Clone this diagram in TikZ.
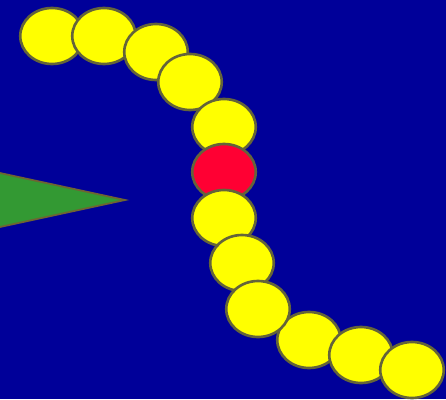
\documentclass[tikz,border=0pt]{standalone}
\usepackage{xcolor}
\usepackage{tikz}
\usetikzlibrary{shapes.geometric}

\definecolor{bgblue}{RGB}{0,0,153}
\definecolor{segyellow}{RGB}{255,255,0}
\definecolor{headred}{RGB}{255,0,51}
\definecolor{tonguegreen}{RGB}{51,153,51}
\definecolor{rimgray}{RGB}{100,100,58}
\definecolor{rimbrown}{RGB}{110,100,50}

\begin{document}
\begin{tikzpicture}[
    x=0.02cm, y=-0.02cm,
    line width=1.5pt,
    seg/.style={
        ellipse,
        draw=rimgray,
        fill=segyellow,
        inner sep=0pt,
        minimum width=1.27cm,
        minimum height=1.12cm
    },
    headseg/.style={
        seg,
        fill=headred
    }
]

% ==================== Canvas ====================
\useasboundingbox (0,0) rectangle (446,399);
\clip (0,0) rectangle (446,399);
\fill[bgblue] (0,0) rectangle (446,399);

% ==================== Tongue ====================
\coordinate (t1) at (0,173);
\coordinate (t2) at (125,200);
\coordinate (t3) at (0,227);
\filldraw[fill=tonguegreen, draw=rimbrown, line width=1pt]
    (-5,172) -- (t1) -- (t2) -- (t3) -- (-5,228) -- cycle;

% ==================== Snake body ====================
\node[seg] (s1) at (52,36)   {};
\node[seg] (s2) at (104,36)  {};
\node[seg] (s3) at (156,52)  {};
\node[seg] (s4) at (190,82)  {};
\node[seg] (s5) at (224,127) {};

\node[headseg] (h) at (224,172) {};

\node[seg] (s7)  at (224,218) {};
\node[seg] (s8)  at (242,263) {};
\node[seg] (s10) at (309,340) {};
\node[seg] (s9)  at (258,309) {};
\node[seg] (s11) at (361,355) {};
\node[seg] (s12) at (412,370) {};

\end{tikzpicture}
\end{document}
